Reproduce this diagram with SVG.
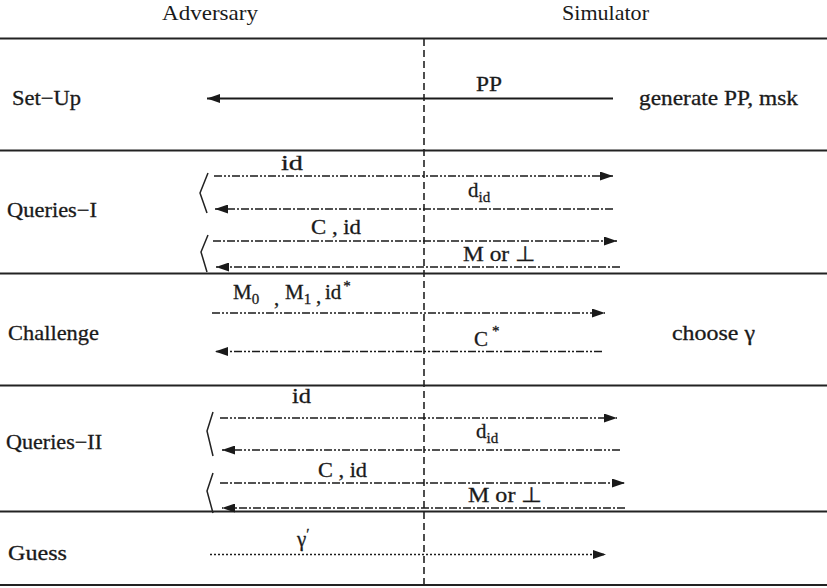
<svg xmlns="http://www.w3.org/2000/svg" width="827" height="588" viewBox="0 0 827 588" font-family="'Liberation Serif', serif">
<defs>
<marker id="ah" markerUnits="userSpaceOnUse" markerWidth="13" markerHeight="9" refX="13" refY="4.5" orient="auto">
<path d="M0,0 L13,4.5 L0,9 z" fill="#1a1a1a"/>
</marker>
<style>
text{font-family:'Liberation Serif',serif;fill:#1a1a1a;font-size:21px;stroke:#1a1a1a;stroke-width:0.3}
.hdr{stroke:none}
.sub{font-size:15px}
.rule{stroke:#222;stroke-width:2}
.vdash{stroke:#222;stroke-width:1.6;stroke-dasharray:7 4}
.a{stroke:#1a1a1a;stroke-width:1.5;fill:none;marker-end:url(#ah)}
.solid{stroke-width:2}
.dd{stroke-dasharray:8 2 2 2 2 2}
.d1{stroke-dasharray:8 2 2 2}
.dot{stroke-dasharray:2 2}
.br{stroke:#222;stroke-width:1.5;fill:none}
</style>
</defs>
<rect width="827" height="588" fill="#fff"/>

<g id="frame">
<line class="rule" x1="0" y1="38.5" x2="827" y2="38.5"/>
<line class="rule" x1="0" y1="150.5" x2="827" y2="150.5"/>
<line class="rule" x1="0" y1="273.5" x2="827" y2="273.5"/>
<line class="rule" x1="0" y1="385.5" x2="827" y2="385.5"/>
<line class="rule" x1="0" y1="511.5" x2="827" y2="511.5"/>
<line class="rule" x1="0" y1="585" x2="827" y2="585"/>
<line class="vdash" x1="424" y1="39" x2="424" y2="588"/>
</g>

<g id="header-adversary"><text class="hdr" x="162" y="20" textLength="96" lengthAdjust="spacingAndGlyphs">Adversary</text></g>
<g id="header-simulator"><text class="hdr" x="562" y="20" textLength="87" lengthAdjust="spacingAndGlyphs">Simulator</text></g>

<g id="phase-setup"><text x="12" y="105" textLength="69" lengthAdjust="spacingAndGlyphs">Set−Up</text></g>
<g id="simulator-setup"><text x="639" y="105" textLength="159" lengthAdjust="spacingAndGlyphs">generate PP, msk</text></g>
<g id="phase-queries1"><text x="7" y="217" textLength="90" lengthAdjust="spacingAndGlyphs">Queries−I</text></g>
<g id="phase-challenge"><text x="8" y="340" textLength="91" lengthAdjust="spacingAndGlyphs">Challenge</text></g>
<g id="simulator-challenge"><text x="672" y="340" textLength="83" lengthAdjust="spacingAndGlyphs">choose γ</text></g>
<g id="phase-queries2"><text x="6" y="449" textLength="96" lengthAdjust="spacingAndGlyphs">Queries−II</text></g>
<g id="phase-guess"><text x="8" y="560" textLength="59" lengthAdjust="spacingAndGlyphs">Guess</text></g>

<g id="connectors">
<line class="a solid" x1="613" y1="98.5" x2="207" y2="98.5"/>
<text x="476" y="91" textLength="26" lengthAdjust="spacingAndGlyphs">PP</text>

<path class="br" d="M208,173 L200,193 L207,213"/>
<path class="br" d="M208,235 L201,252 L207,272"/>
<line class="a dd" x1="214" y1="176" x2="613" y2="176"/>
<text x="281" y="170" textLength="22" lengthAdjust="spacingAndGlyphs">id</text>
<line class="a d1" x1="613" y1="209" x2="215" y2="209"/>
<text x="468" y="197">d<tspan class="sub" dy="5">id</tspan></text>
<line class="a d1" x1="213" y1="241" x2="617" y2="241"/>
<text x="311" y="234" textLength="50" lengthAdjust="spacingAndGlyphs">C , id</text>
<line class="a d1" x1="620" y1="267" x2="216" y2="267"/>
<text x="463" y="261" textLength="72" lengthAdjust="spacingAndGlyphs">M or  ⊥</text>

<line class="a dd" x1="212" y1="313" x2="605" y2="313"/>
<text x="233" y="299">M<tspan class="sub" dy="5">0</tspan><tspan x="274" dy="1">,</tspan><tspan x="285" dy="-6">M</tspan><tspan class="sub" dy="5">1</tspan><tspan x="316" dy="-1">,</tspan><tspan x="325" dy="-4">id</tspan><tspan class="sub" dx="2" dy="-8">*</tspan></text>
<line class="a dd" x1="602" y1="351.5" x2="215" y2="351.5"/>
<text x="474" y="346">C<tspan class="sub" dx="4" dy="-10">*</tspan></text>

<path class="br" d="M213,412 L207,431 L213,456"/>
<path class="br" d="M213,473 L207,491 L213,513"/>
<line class="a dd" x1="220" y1="418" x2="617" y2="418"/>
<text x="292" y="403" textLength="19" lengthAdjust="spacingAndGlyphs">id</text>
<line class="a dd" x1="620" y1="450" x2="222" y2="450"/>
<text x="476" y="438">d<tspan class="sub" dy="5">id</tspan></text>
<line class="a d1" x1="220" y1="483" x2="625" y2="483"/>
<text x="318" y="477" textLength="49" lengthAdjust="spacingAndGlyphs">C , id</text>
<line class="a d1" x1="625" y1="508" x2="222" y2="508"/>
<text x="468" y="502" textLength="74" lengthAdjust="spacingAndGlyphs">M or  ⊥</text>

<line class="a dot" x1="210" y1="554.5" x2="606" y2="554.5"/>
<text x="297" y="546">γ<tspan class="sub" dy="-7">′</tspan></text>
</g>
</svg>
